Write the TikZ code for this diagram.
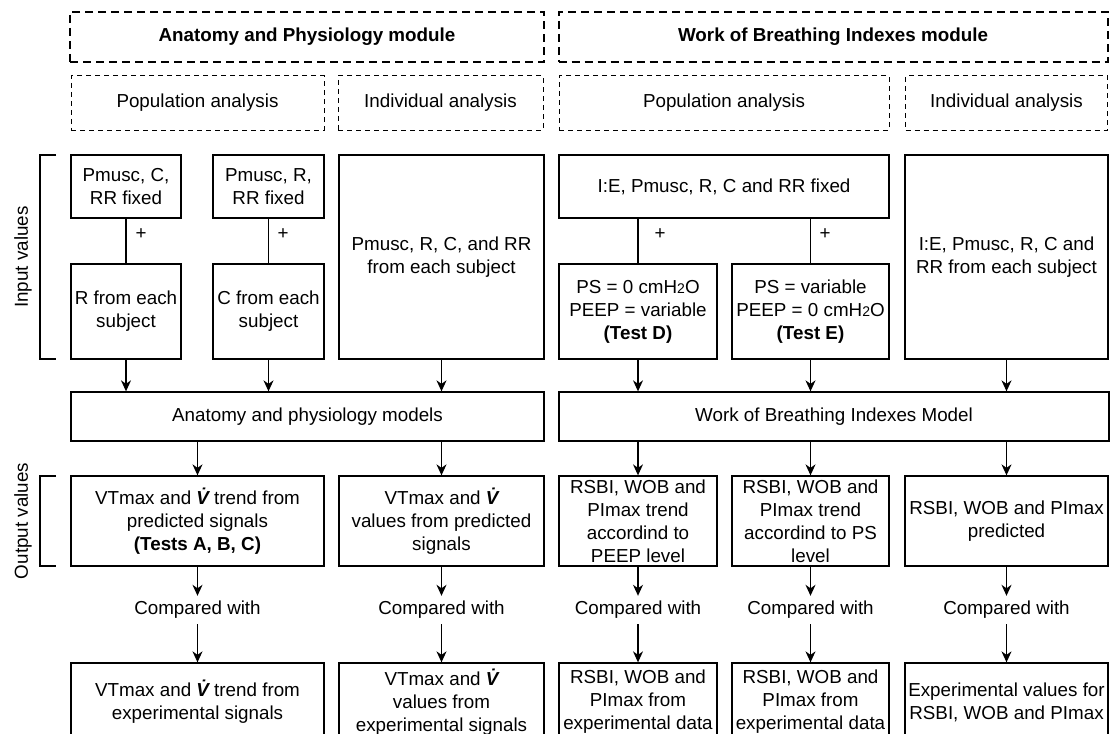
\documentclass[tikz,border=0pt]{standalone}
\usepackage{fontspec}
\setmainfont{Liberation Sans}
\usetikzlibrary{arrows.meta}
\newcommand\diafont{\fontsize{18.8}{23}\selectfont}
\newcommand\vdotsym{{\bfseries\itshape \.{V}}}
\newcommand\subtwo{{\fontsize{14}{16}\selectfont 2}}
\begin{document}
\begin{tikzpicture}[x=1pt,y=-1pt,
  box/.style={draw, line width=1.3pt, fill=white, align=center, inner sep=0pt, font=\diafont},
  modbox/.style={draw, line width=2pt, dash pattern=on 8pt off 5pt, align=center, inner sep=0pt, font=\diafont\bfseries},
  anbox/.style={draw, line width=1pt, dash pattern=on 5pt off 4pt, align=center, inner sep=0pt, font=\diafont},
  lbl/.style={inner sep=0pt, font=\diafont},
  cmp/.style={inner sep=0pt, minimum height=28pt, font=\diafont},
  arr/.style={line width=1.3pt, -{Stealth[length=11pt,width=10pt,inset=3.5pt]}},
  ln/.style={line width=1.3pt}]
\useasboundingbox (0,0) rectangle (1110,733);
% module headers
\node[modbox, minimum width=474pt, minimum height=50pt] (mAP) at (307,37) {Anatomy and Physiology module};
\node[modbox, minimum width=549pt, minimum height=50pt] (mWOB) at (833,37) {Work of Breathing Indexes module};
\node[anbox, minimum width=253pt, minimum height=54pt] (pAP) at (197.5,103) {Population analysis};
\node[anbox, minimum width=205pt, minimum height=54pt] (iAP) at (440.5,103) {Individual analysis};
\node[anbox, minimum width=330pt, minimum height=54pt] (pW) at (724,103) {Population analysis};
\node[anbox, minimum width=202pt, minimum height=54pt] (iW) at (1006.5,103) {Individual analysis};
% brackets and side labels
\coordinate (ib1) at (56,155); \coordinate (ib2) at (40,155);
\coordinate (ib3) at (40,359); \coordinate (ib4) at (56,359);
\draw[ln] (ib1) -- (ib2) -- (ib3) -- (ib4);
\coordinate (ob1) at (56,476); \coordinate (ob2) at (40,476);
\coordinate (ob3) at (40,566); \coordinate (ob4) at (56,566);
\draw[ln] (ob1) -- (ob2) -- (ob3) -- (ob4);
\node[lbl, rotate=90] (inlab) at (23,257) {Input values};
\node[lbl, rotate=90] (outlab) at (23,521) {Output values};
% input boxes
\node[box, minimum width=110pt, minimum height=63pt] (b1) at (126,186.5) {Pmusc, C,\\RR fixed};
\node[box, minimum width=110pt, minimum height=95pt] (b1l) at (126,311.5) {R from each\\subject};
\node[box, minimum width=111pt, minimum height=63pt] (b2) at (268.5,186.5) {Pmusc, R,\\RR fixed};
\node[box, minimum width=111pt, minimum height=95pt] (b2l) at (268.5,311.5) {C from each\\subject};
\node[box, minimum width=205pt, minimum height=204pt] (b3) at (441.5,257) {Pmusc, R, C, and RR\\from each subject};
\node[box, minimum width=330pt, minimum height=63pt] (w1) at (724,186.5) {I:E, Pmusc, R, C and RR fixed};
\node[box, minimum width=158pt, minimum height=95pt] (wD) at (638,311.5) {PS = 0 cmH\subtwo O\\PEEP = variable\\\textbf{(Test D)}};
\node[box, minimum width=157pt, minimum height=95pt] (wE) at (810.5,311.5) {PS = variable\\PEEP = 0 cmH\subtwo O\\\textbf{(Test E)}};
\node[box, minimum width=203pt, minimum height=204pt] (w3) at (1006.5,257) {I:E, Pmusc, R, C and\\RR from each subject};
\draw[ln] (b1.south -| b1l.north) -- (b1l.north);
\draw[ln] (b2.south -| b2l.north) -- (b2l.north);
\draw[ln] (w1.south -| wD.north) -- (wD.north);
\draw[ln] (w1.south -| wE.north) -- (wE.north);
\node[lbl] (p1) at (141,234) {+};
\node[lbl] (p2) at (283,234) {+};
\node[lbl] (p3) at (660,234) {+};
\node[lbl] (p4) at (825,234) {+};
% models
\node[box, minimum width=473pt, minimum height=49pt] (mod1) at (307.5,416.5) {Anatomy and physiology models};
\node[box, minimum width=550pt, minimum height=49pt] (mod2) at (834,416.5) {Work of Breathing Indexes Model};
\draw[arr] (b1l.south) -- (b1l.south |- mod1.north);
\draw[arr] (b2l.south) -- (b2l.south |- mod1.north);
\draw[arr] (b3.south) -- (b3.south |- mod1.north);
\draw[arr] (wD.south) -- (wD.south |- mod2.north);
\draw[arr] (wE.south) -- (wE.south |- mod2.north);
\draw[arr] (w3.south) -- (w3.south |- mod2.north);
% outputs
\node[box, minimum width=253pt, minimum height=90pt] (o1) at (197.5,521) {VTmax and \vdotsym{} trend from\\predicted signals\\\textbf{(Tests A, B, C)}};
\node[box, minimum width=205pt, minimum height=90pt] (o2) at (441.5,521) {VTmax and \vdotsym\\values from predicted\\signals};
\node[box, minimum width=158pt, minimum height=90pt] (o3) at (638,521) {RSBI, WOB and\\PImax trend\\accordind to\\PEEP level};
\node[box, minimum width=157pt, minimum height=90pt] (o4) at (810.5,521) {RSBI, WOB and\\PImax trend\\accordind to PS\\level};
\node[box, minimum width=203pt, minimum height=90pt] (o5) at (1006.5,521) {RSBI, WOB and PImax\\predicted};
\draw[arr] (o1.north |- mod1.south) -- (o1.north);
\draw[arr] (o2.north |- mod1.south) -- (o2.north);
\draw[arr] (o3.north |- mod2.south) -- (o3.north);
\draw[arr] (o4.north |- mod2.south) -- (o4.north);
\draw[arr] (o5.north |- mod2.south) -- (o5.north);
% compared with
\node[cmp] (c1) at (197.5,610) {Compared with};
\node[cmp] (c2) at (441.5,610) {Compared with};
\node[cmp] (c3) at (638,610) {Compared with};
\node[cmp] (c4) at (810.5,610) {Compared with};
\node[cmp] (c5) at (1006.5,610) {Compared with};
% final boxes (cut off at the bottom edge)
\node[box, minimum width=253pt, minimum height=78pt] (f1) at (197.5,702) {VTmax and \vdotsym{} trend from\\experimental signals};
\node[box, minimum width=205pt, minimum height=78pt] (f2) at (441.5,702) {VTmax and \vdotsym\\values from\\experimental signals};
\node[box, minimum width=158pt, minimum height=78pt] (f3) at (638,702) {RSBI, WOB and\\PImax from\\experimental data};
\node[box, minimum width=157pt, minimum height=78pt] (f4) at (810.5,702) {RSBI, WOB and\\PImax from\\experimental data};
\node[box, minimum width=203pt, minimum height=78pt] (f5) at (1006.5,702) {Experimental values for\\RSBI, WOB and PImax};
\foreach \i in {1,...,5} {
  \draw[arr] (o\i.south) -- (c\i.north);
  \draw[arr] (c\i.south) -- (f\i.north);
}
\end{tikzpicture}
\end{document}
